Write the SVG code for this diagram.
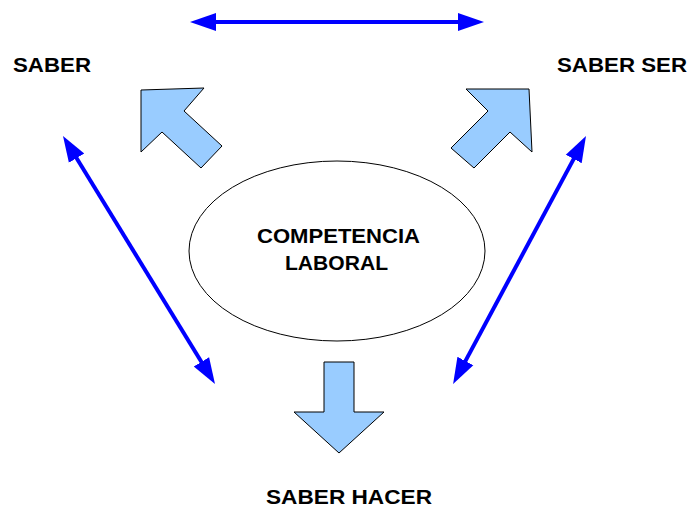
<svg xmlns="http://www.w3.org/2000/svg" width="690" height="509" viewBox="0 0 690 509">
<style>
.lbl{font-family:"Liberation Sans",Arial,sans-serif;font-weight:bold;font-size:21px;fill:#000}
.blk{fill:#99ccff;stroke:#000;stroke-width:1;stroke-linejoin:miter}
.con{stroke:#0000ff;stroke-width:4;fill:none}
</style>
<defs>
<marker id="ah" markerUnits="userSpaceOnUse" viewBox="0 -10 27 20" refX="6" refY="0" markerWidth="27" markerHeight="20" orient="auto-start-reverse">
<path d="M0,-9 L26,0 L0,9 z" fill="#0000ff"/>
</marker>
</defs>
<rect width="690" height="509" fill="#fff"/>
<g id="connectors">
<line class="con" x1="210" y1="22" x2="464" y2="22" marker-start="url(#ah)" marker-end="url(#ah)"/>
<line class="con" x1="73.45" y1="153.05" x2="204.55" y2="366.95" marker-start="url(#ah)" marker-end="url(#ah)"/>
<line class="con" x1="576.55" y1="153.63" x2="462.55" y2="366.37" marker-start="url(#ah)" marker-end="url(#ah)"/>
</g>
<g id="arrow-saber"><polygon class="blk" points="141,90 204,88 184,111 222,146 201,168 162,132 141,152"/></g>
<g id="arrow-saber-ser"><polygon class="blk" points="466,89 529,89 532,152 510,132 474,168 451,148 488,111"/></g>
<g id="arrow-saber-hacer"><polygon class="blk" points="324,362 354,362 354,412 384,412 339,453 294,412 324,412"/></g>
<g id="competencia">
<ellipse cx="337" cy="251" rx="148" ry="90" fill="#fff" stroke="#000" stroke-width="1"/>
<text class="lbl" x="257" y="243" textLength="163" lengthAdjust="spacingAndGlyphs">COMPETENCIA</text>
<text class="lbl" x="285" y="270" textLength="103" lengthAdjust="spacingAndGlyphs">LABORAL</text>
</g>
<g id="saber"><text class="lbl" x="13" y="72" textLength="78" lengthAdjust="spacingAndGlyphs">SABER</text></g>
<g id="saber-ser"><text class="lbl" x="557" y="72" textLength="130" lengthAdjust="spacingAndGlyphs">SABER SER</text></g>
<g id="saber-hacer"><text class="lbl" x="266" y="504" textLength="166" lengthAdjust="spacingAndGlyphs">SABER HACER</text></g>
</svg>
